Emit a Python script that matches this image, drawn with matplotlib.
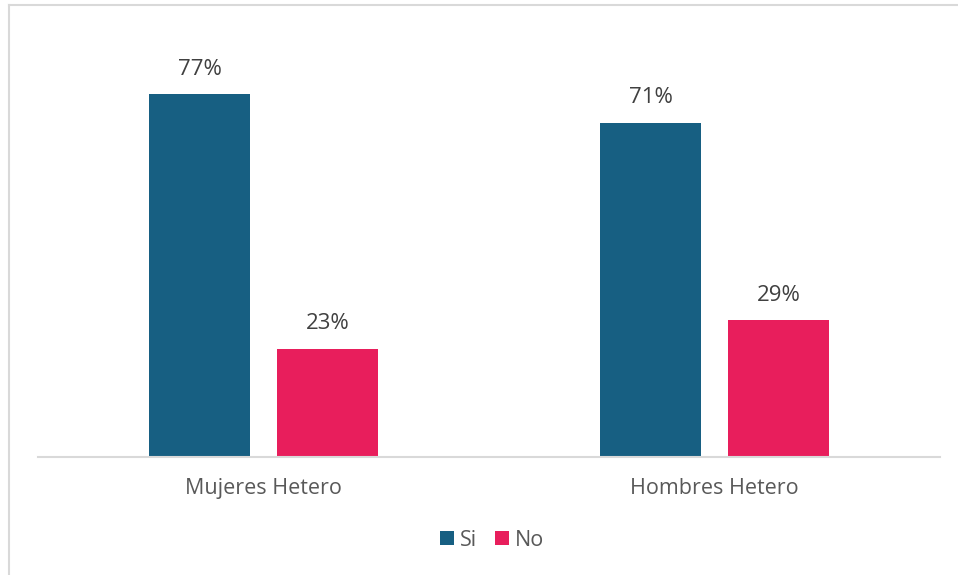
import numpy as np
import matplotlib.pyplot as plt
from matplotlib.lines import Line2D

categories = ['Mujeres Hetero', 'Hombres Hetero']
si_values = [77, 71]
no_values = [23, 29]
series_names = ['Si', 'No']

plt.rcParams['font.family'] = ['Open Sans', 'DejaVu Sans']

fig = plt.figure(figsize=(9.58, 5.75), dpi=100)
ax = fig.add_axes([38 / 958, 118 / 575, 902 / 958, 424 / 575])

x = np.arange(len(categories))
width = 0.224
offset = 0.142
blue = '#175f82'
pink = '#e81e5c'

bars_si = ax.bar(x - offset, si_values, width, color=blue, label=series_names[0])
bars_no = ax.bar(x + offset, no_values, width, color=pink, label=series_names[1])

for bars in (bars_si, bars_no):
    for b in bars:
        ax.annotate(f'{b.get_height():.0f}%', (b.get_x() + b.get_width() / 2, b.get_height()),
                    xytext=(0, 18), textcoords='offset points', ha='center', va='center',
                    fontsize=16, color='#404040')

ax.set_xlim(-0.5, 1.5)
ax.set_ylim(0, 90)
ax.set_yticks([])
ax.set_xticks(x)
ax.set_xticklabels(categories, fontsize=15.5, color='#595959')
ax.tick_params(axis='x', length=0, pad=15)
for s in ['top', 'right', 'left']:
    ax.spines[s].set_visible(False)
ax.spines['bottom'].set_color('#d9d9d9')
ax.spines['bottom'].set_linewidth(1.5)

fig.legend(loc='center', bbox_to_anchor=(492 / 958, 1 - 540 / 575), ncol=2, frameon=False,
           fontsize=15.5, labelcolor='#595959', handlelength=0.65, handleheight=0.65,
           handletextpad=0.3, columnspacing=0.8)

# chart border (top and left visible)
fig.add_artist(Line2D([9 / 958, 1], [1 - 4.5 / 575, 1 - 4.5 / 575], color='#d9d9d9', lw=1.5))
fig.add_artist(Line2D([9 / 958, 9 / 958], [0, 1 - 4.5 / 575], color='#d9d9d9', lw=1.5))

fig.savefig('out.png', dpi=100)
